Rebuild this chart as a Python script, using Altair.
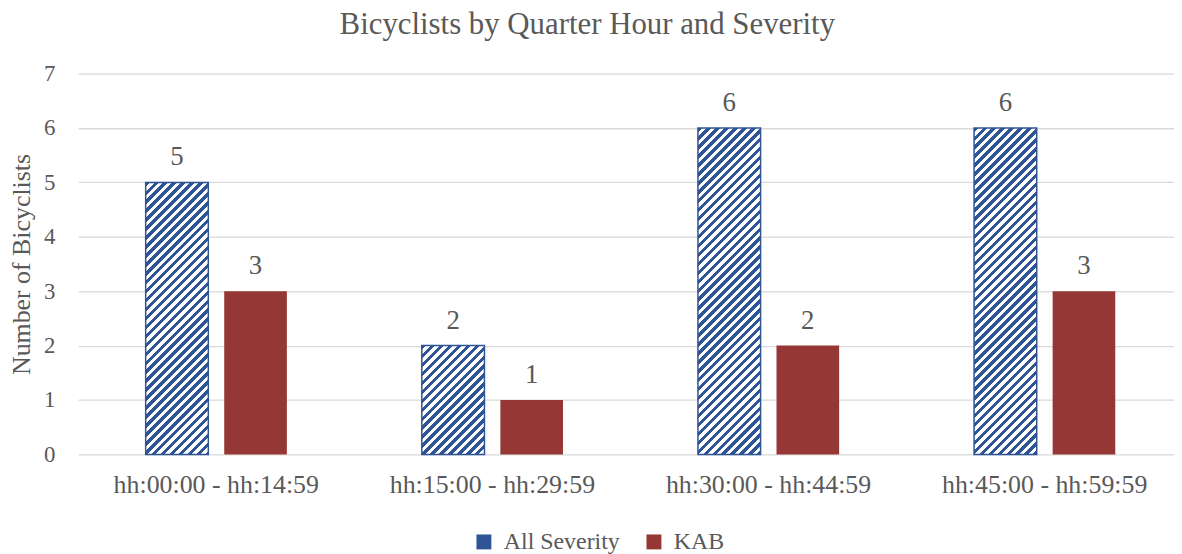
import altair as alt
import pandas as pd

# ---- data ----
categories = ["hh:00:00 - hh:14:59", "hh:15:00 - hh:29:59",
              "hh:30:00 - hh:44:59", "hh:45:00 - hh:59:59"]
series_names = ["All Severity", "KAB"]
all_severity = [5, 2, 6, 6]
kab = [3, 1, 2, 3]
y_ticks = [0, 1, 2, 3, 4, 5, 6, 7]

rows = []
for c, a, k in zip(categories, all_severity, kab):
    rows.append({"cat": c, "series": "All Severity", "value": a})
    rows.append({"cat": c, "series": "KAB", "value": k})
df = pd.DataFrame(rows)

# ---- styles ----
BLUE = "#2F5597"
RED = "#953735"
TXT = "#595959"
GRID = "#D9D9D9"
FONT = "Liberation Serif"

W = 1102
H = 383
XRANGE = 1110.8
P_IN = 0.2025
P_OUT = 0.859
BAR_W = XRANGE / 4 * (1 - P_IN) / (2 - P_IN + 2 * P_OUT)
PX_PER_UNIT = H / 7.0


def hatch(value, w=BAR_W, period=9.0, ink=4.5):
    """Diagonal '/' stripe fill built as a hard-stop linear gradient."""
    h = value * PX_PER_UNIT
    r = h / w
    a = (1 + r) / (1 + r * r)
    L = w + h
    stops = []
    k = 0.0
    while k < L:
        o1 = k / L
        o2 = min((k + ink) / L, 1.0)
        o3 = min((k + period) / L, 1.0)
        stops += [
            {"offset": round(o1, 5), "color": BLUE},
            {"offset": round(o2, 5), "color": BLUE},
            {"offset": round(o2, 5), "color": "#FFFFFF"},
            {"offset": round(o3, 5), "color": "#FFFFFF"},
        ]
        k += period
    return {"gradient": "linear", "x1": 0, "y1": 0, "x2": a, "y2": a * r,
            "stops": stops}


x_enc = alt.X(
    "cat:N", sort=categories,
    scale=alt.Scale(range=[0, XRANGE], paddingInner=0, paddingOuter=0),
    axis=alt.Axis(title=None, labelFont=FONT, labelFontSize=26, labelColor=TXT,
                  labelPadding=38, labelBaseline="alphabetic", labelAngle=0,
                  labelLimit=0, domain=False, ticks=False, tickSize=0,
                  grid=False),
)
xoff_enc = alt.XOffset(
    "series:N", sort=series_names,
    scale=alt.Scale(domain=series_names, paddingInner=P_IN, paddingOuter=P_OUT),
)
y_enc = alt.Y(
    "value:Q",
    scale=alt.Scale(domain=[0, 7], nice=False),
    axis=alt.Axis(values=y_ticks, title="Number of Bicyclists",
                  titleFont=FONT, titleFontSize=26, titleColor=TXT,
                  titleFontWeight="normal", titleX=-49, titleY=H / 2,
                  titleAngle=270, titleBaseline="alphabetic", titleAlign="center",
                  labelFont=FONT, labelFontSize=23, labelColor=TXT,
                  labelPadding=23.5, domain=False, ticks=False, tickSize=0,
                  grid=True, gridColor=GRID, gridWidth=1.3),
)

base = alt.Chart(df)

bars = base.mark_bar().encode(
    x=x_enc, xOffset=xoff_enc, y=y_enc,
    color=alt.Color(
        "series:N",
        scale=alt.Scale(domain=series_names, range=[BLUE, RED]),
        legend=alt.Legend(orient="none", legendX=396, legendY=459,
                          direction="horizontal", title=None,
                          symbolType="square", symbolSize=225,
                          symbolStrokeWidth=0,
                          labelFont=FONT, labelFontSize=24, labelColor=TXT,
                          labelOffset=8, columnPadding=22),
    ),
)

layers = [bars]
for c, v in zip(categories, all_severity):
    layers.append(
        base.transform_filter(
            (alt.datum.cat == c) & (alt.datum.series == "All Severity")
        ).mark_bar(fill=hatch(v), stroke=BLUE, strokeWidth=1.5).encode(
            x=x_enc, xOffset=xoff_enc, y=y_enc
        )
    )

labels = base.mark_text(font=FONT, fontSize=27, color=TXT,
                        baseline="alphabetic", dy=-17).encode(
    x=x_enc, xOffset=xoff_enc, y=y_enc, text="value:Q"
)
layers.append(labels)

chart = alt.layer(*layers).properties(
    width=W, height=H,
    title=alt.TitleParams("Bicyclists by Quarter Hour and Severity",
                          font=FONT, fontSize=31, fontWeight="normal",
                          color=TXT, anchor="middle", dx=-39, dy=11, offset=9,
                          baseline="alphabetic"),
    autosize=alt.AutoSizeParams(type="none"),
    padding={"left": 70.6, "top": 64.4, "right": 0, "bottom": 98.6},
).configure_view(stroke=None)

chart.save("out.html", embed_options={"renderer": "svg", "actions": False})
